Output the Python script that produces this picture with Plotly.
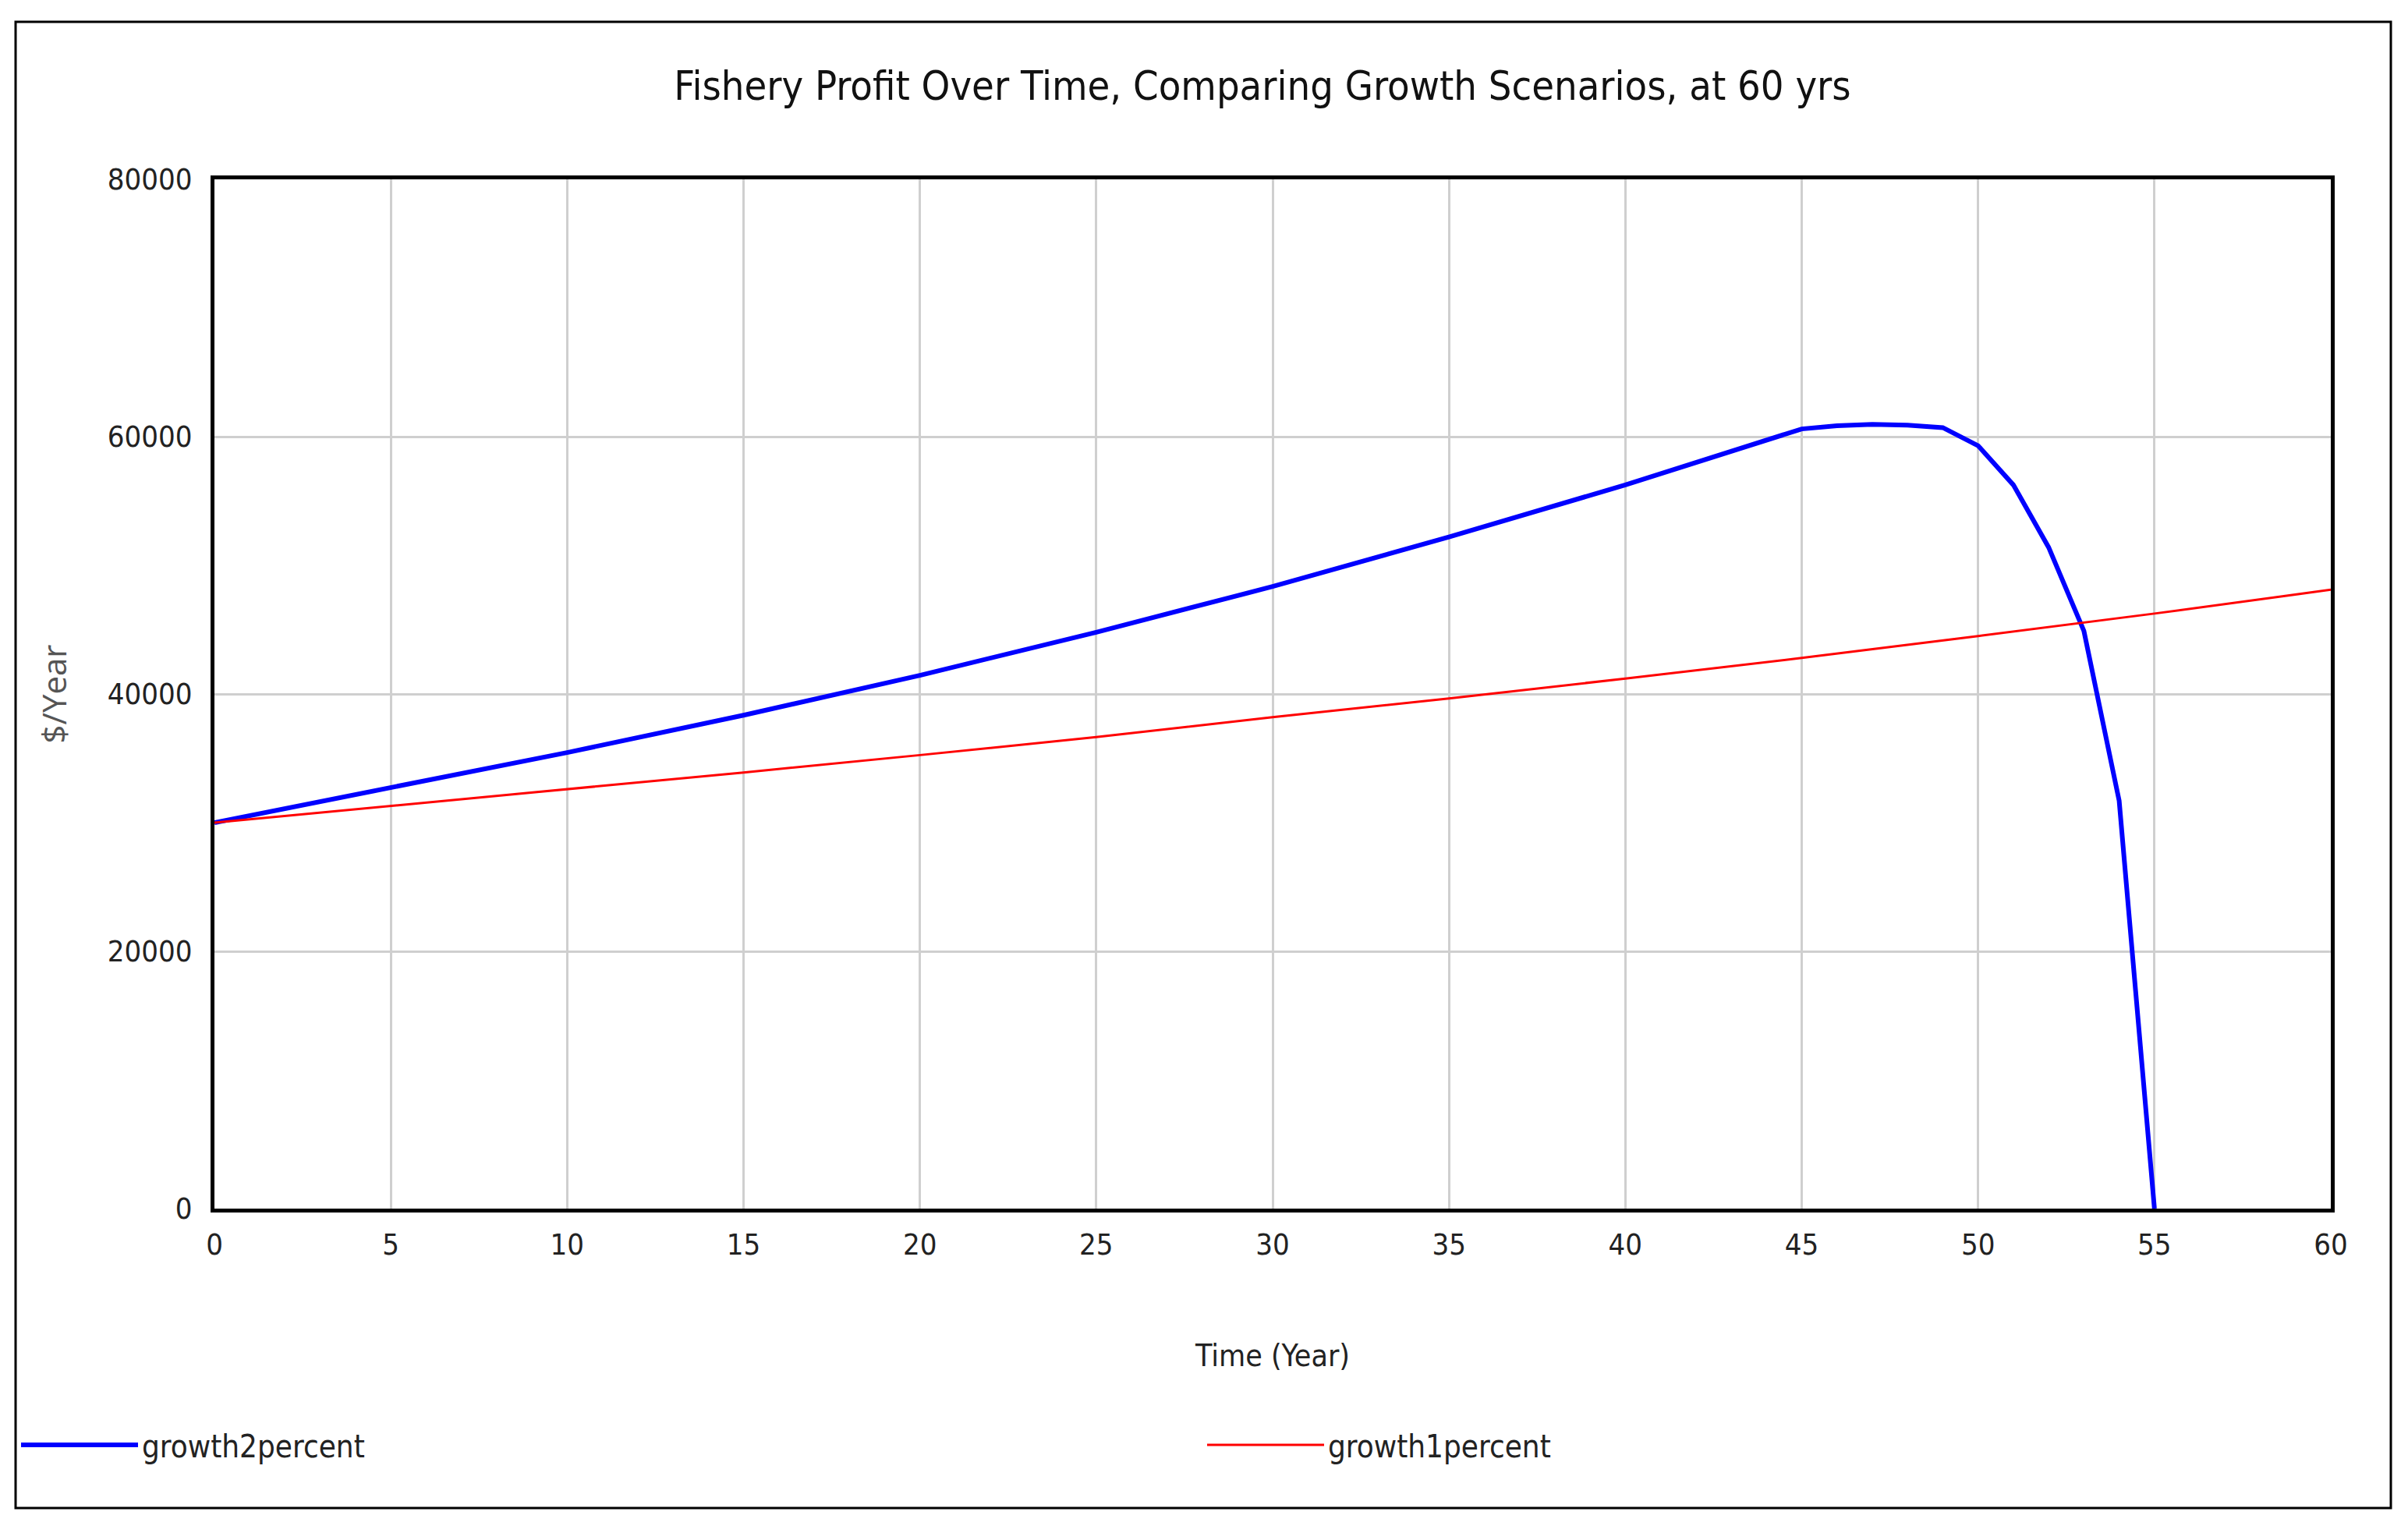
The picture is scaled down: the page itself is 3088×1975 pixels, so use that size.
import plotly.graph_objects as go

# ---- data ----
years_2pct = [0, 5, 10, 15, 20, 25, 30, 35, 40, 45, 46, 47, 48, 49, 50, 51, 52, 53, 54, 55]
profit_2pct = [30000, 32700, 35450, 38350, 41450, 44800, 48350, 52200, 56250, 60600,
               60850, 60950, 60900, 60700, 59300, 56250, 51400, 44900, 31700, 0]

years_1pct = [0, 5, 10, 15, 20, 25, 30, 35, 40, 45, 50, 55, 60]
profit_1pct = [30000, 31300, 32600, 33900, 35250, 36650, 38200, 39650, 41200, 42800,
               44500, 46250, 48100]

x_ticks = [0, 5, 10, 15, 20, 25, 30, 35, 40, 45, 50, 55, 60]
y_ticks = [0, 20000, 40000, 60000, 80000]

TITLE = "Fishery Profit Over Time, Comparing Growth Scenarios, at 60 yrs"
NARROW = "Liberation Sans Narrow, DejaVu Sans Condensed, Roboto, sans-serif"

# page geometry (the html body has an 8px default margin)
OFF = 8
PAGE_W, PAGE_H = 3088, 1975
W, H = PAGE_W - OFF, PAGE_H - OFF
# plot area in page pixels
PX0, PX1, PY0, PY1 = 275, 2989, 230, 1550
L, R, T, B = PX0 - OFF, W - (PX1 - OFF), PY0 - OFF, H - (PY1 - OFF)
PW, PH = PX1 - PX0, PY1 - PY0


def px_x(p):
    return (p - PX0) / PW


def px_y(p):
    return (PY1 - p) / PH


fig = go.Figure()
fig.add_trace(go.Scatter(x=years_2pct, y=profit_2pct, mode="lines", name="growth2percent",
                         line=dict(color="#0000ff", width=6), legend="legend", showlegend=True))
fig.add_trace(go.Scatter(x=years_1pct, y=profit_1pct, mode="lines", name="growth1percent",
                         line=dict(color="#ff0000", width=3), legend="legend2", showlegend=True))

axis_common = dict(showline=True, mirror=True, linecolor="black", linewidth=5,
                   showgrid=True, gridcolor="#cfcfcf", gridwidth=3, zeroline=False,
                   ticks="", tickfont=dict(family=NARROW, size=38, color="#222"))

fig.update_xaxes(range=[0, 60], tickvals=x_ticks, ticklabelstandoff=8,
                 title=dict(text="Time (Year)", standoff=110,
                            font=dict(family=NARROW, size=39, color="#222")),
                 **axis_common)
fig.update_yaxes(range=[0, 80000], tickvals=y_ticks, tickformat="d", ticklabelstandoff=16,
                 title=dict(text="$/Year", standoff=40,
                            font=dict(family="Open Sans", size=42, color="#555")),
                 **axis_common)

legend_common = dict(orientation="h", xanchor="left", yanchor="middle", y=px_y(1853),
                     font=dict(family=NARROW, size=40, color="#222"),
                     itemwidth=150, bgcolor="rgba(0,0,0,0)", visible=True)

fig.update_layout(
    width=W, height=H,
    showlegend=True,
    margin=dict(l=L, r=R, t=T, b=B, autoexpand=False),
    paper_bgcolor="white", plot_bgcolor="white",
    title=dict(text=TITLE, x=(1619 - OFF) / W, xanchor="center", xref="container",
               y=1 - (110 - OFF) / H, yanchor="middle", yref="container",
               font=dict(family=NARROW, size=52, color="#111")),
    legend=dict(x=px_x(22), **legend_common),
    legend2=dict(x=px_x(1543), **legend_common),
    shapes=[dict(type="rect", xref="paper", yref="paper",
                 x0=px_x(20), x1=px_x(3066), y0=px_y(1934), y1=px_y(28),
                 line=dict(color="black", width=3), layer="below")],
)

fig.write_html("out.html")
